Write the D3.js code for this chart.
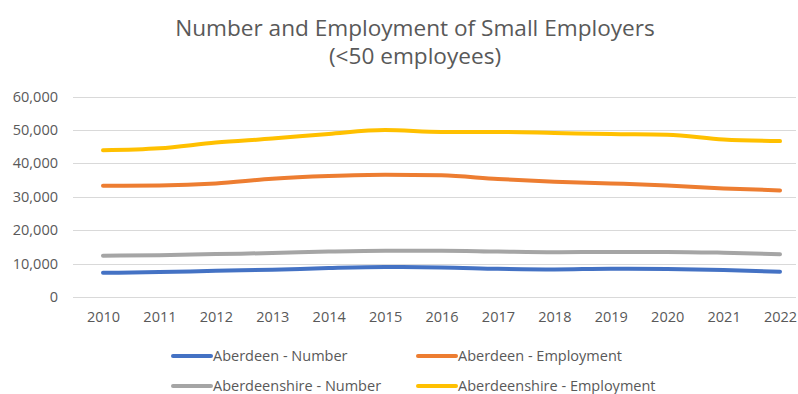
<!DOCTYPE html>
<html>
<head>
<meta charset="utf-8">
<script src="https://cdn.jsdelivr.net/npm/d3@7"></script>
<style>
  html, body { margin: 0; padding: 0; background: #fff; }
  svg { display: block; font-family: "Open Sans", "Liberation Sans", sans-serif; }
</style>
</head>
<body>
<svg id="chart" width="798" height="394"></svg>
<script>
// Years on the x axis
const years = [2010, 2011, 2012, 2013, 2014, 2015, 2016, 2017, 2018, 2019, 2020, 2021, 2022];

// Series values
const aberdeenNumber = [7250, 7450, 7850, 8150, 8650, 8950, 8850, 8450, 8250, 8450, 8350, 8050, 7550];
const aberdeenEmployment = [33300, 33400, 34000, 35400, 36200, 36600, 36400, 35300, 34500, 34000, 33400, 32500, 31900];
const aberdeenshireNumber = [12350, 12500, 12850, 13150, 13600, 13850, 13850, 13600, 13400, 13500, 13500, 13250, 12800];
const aberdeenshireEmployment = [43900, 44500, 46200, 47400, 48800, 49950, 49400, 49400, 49100, 48750, 48550, 47150, 46650];

const seriesNames = ["Aberdeen - Number", "Aberdeen - Employment", "Aberdeenshire - Number", "Aberdeenshire - Employment"];
const seriesColors = ["#4472C4", "#ED7D31", "#A5A5A5", "#FFC000"];
const yTicks = [0, 10000, 20000, 30000, 40000, 50000, 60000];

const series = [aberdeenNumber, aberdeenEmployment, aberdeenshireNumber, aberdeenshireEmployment]
  .map((values, i) => ({ name: seriesNames[i], color: seriesColors[i], values }));

const svg = d3.select("#chart");
const textColor = "#595959";
const fontFamily = "'Open Sans', 'Liberation Sans', sans-serif";

// Title
const title = svg.append("text")
  .attr("text-anchor", "middle")
  .attr("fill", textColor).style("font-size", "22.6px");
title.append("tspan").attr("x", 415).attr("y", 36).text("Number and Employment of Small Employers");
title.append("tspan").attr("x", 415).attr("y", 64).text("(<50 employees)");

// Scales
const x = d3.scalePoint().domain(years).range([103, 780]);
const y = d3.scaleLinear().domain([0, 60000]).range([297, 96.5]);

// Gridlines
svg.append("g")
  .selectAll("line").data(yTicks).join("line")
  .attr("x1", 73).attr("x2", 796)
  .attr("y1", d => Math.round(y(d)) + 0.5).attr("y2", d => Math.round(y(d)) + 0.5)
  .attr("stroke", "#D9D9D9").attr("stroke-width", 1);

// Y axis labels
const yAxis = svg.append("g").attr("transform", "translate(58,0)")
  .call(d3.axisLeft(y).tickValues(yTicks).tickSize(0).tickPadding(0).tickFormat(d3.format(",")));
yAxis.select(".domain").remove();
yAxis.selectAll("text").attr("fill", textColor).style("font-size", "14.5px")
  .style("font-family", fontFamily);

// X axis labels
const xAxis = svg.append("g").attr("transform", "translate(0,312)")
  .call(d3.axisBottom(x).tickSize(0).tickPadding(0));
xAxis.select(".domain").remove();
xAxis.selectAll("text").attr("fill", textColor).style("font-size", "14.5px")
  .style("font-family", fontFamily);

// Lines
const line = d3.line()
  .x((d, i) => x(years[i]))
  .y(d => y(d))
  .curve(d3.curveMonotoneX);

svg.append("g").selectAll("path").data(series).join("path")
  .attr("d", d => line(d.values))
  .attr("fill", "none")
  .attr("stroke", d => d.color)
  .attr("stroke-width", 4)
  .attr("stroke-linecap", "round")
  .attr("stroke-linejoin", "round");

// Legend
const legendPos = [[173, 356], [418, 356], [173, 386], [418, 386]];
const legend = svg.append("g").selectAll("g").data(series).join("g")
  .attr("transform", (d, i) => `translate(${legendPos[i][0]},${legendPos[i][1]})`);
legend.append("line")
  .attr("x1", 0).attr("x2", 38).attr("y1", 0).attr("y2", 0)
  .attr("stroke", d => d.color).attr("stroke-width", 4).attr("stroke-linecap", "round");
legend.append("text")
  .attr("x", 40).attr("y", 0).attr("dy", "0.35em")
  .attr("fill", textColor).style("font-size", "14.5px")
  .text(d => d.name);
</script>
</body>
</html>
